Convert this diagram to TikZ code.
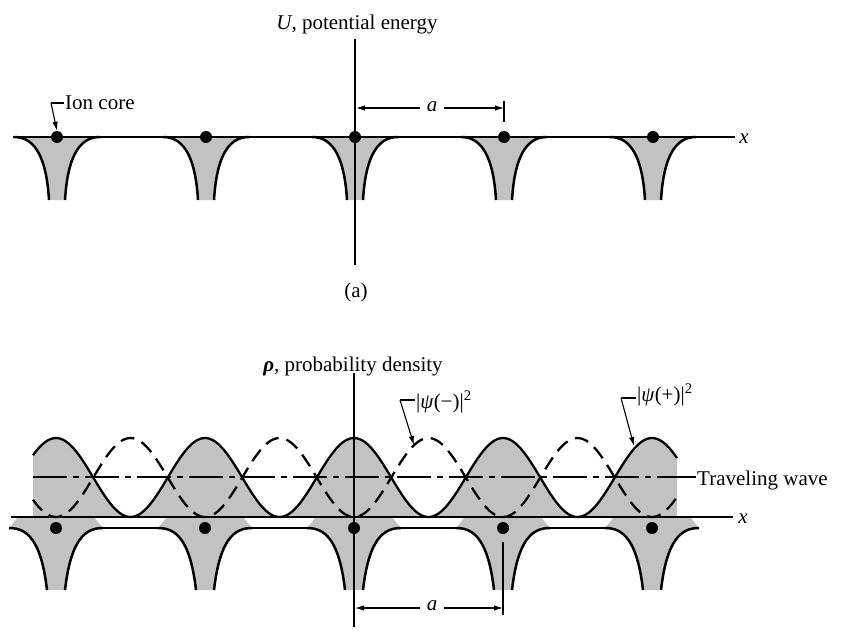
\documentclass[tikz,border=0pt]{standalone}
\usepackage{fontspec}
\setmainfont{Liberation Serif}
\usetikzlibrary{arrows.meta}
\begin{document}
\begin{tikzpicture}[x=1pt,y=-1pt,
  pot/.style={line width=2.5pt},
  axis/.style={line width=1.1pt},
  wave/.style={line width=2.3pt},
  dwave/.style={wave, dash pattern=on 14pt off 8pt},
  trav/.style={line width=1.1pt, dash pattern=on 34pt off 6pt on 6pt off 6pt},
  shade/.style={fill=black!24},
  ion/.style={circle, fill=black, inner sep=0pt, minimum size=12pt},
  lbl/.style={font=\fontsize{21}{24}\selectfont, inner sep=1pt},
  tip/.style={-{Latex[length=9pt,width=5.5pt]}, line width=1.1pt},
  plain/.style={line width=1.1pt},
]
\useasboundingbox (0,0) rectangle (842,634);

% ================= (a) potential energy =================
\foreach \c in {-2,...,2} {
  \fill[shade] ({355+149*\c-43},137) .. controls ({355+149*\c-26},137) and ({355+149*\c-11},150) .. ({355+149*\c-8},200)
     -- ({355+149*\c+8},200) .. controls ({355+149*\c+11},150) and ({355+149*\c+26},137) .. ({355+149*\c+43},137) -- cycle;
}
\draw[axis] (13,137) -- (735,137);
\foreach \c in {-2,...,2} {
  \draw[pot] ({355+149*\c-43},137) .. controls ({355+149*\c-26},137) and ({355+149*\c-11},150) .. ({355+149*\c-8},200);
  \draw[pot] ({355+149*\c+8},200) .. controls ({355+149*\c+11},150) and ({355+149*\c+26},137) .. ({355+149*\c+43},137);
}
\foreach \c in {-2,...,1} {
  \draw[pot] ({355+149*\c+43},137) -- ({355+149*\c+106},137);
}
\foreach \c/\n in {-2/1,-1/2,0/3,1/4,2/5} {
  \node[ion] (t\n) at ({355+149*\c},137) {};
}
\node[lbl] (xa) at (744,139) {\textit{x}};
\node[lbl] (Ulab) at (357,24) {\textit{U}, potential energy};
\coordinate (Utop) at (355,39);
\coordinate (Ubot) at (355,265);
\draw[axis] (Utop) -- (Ubot);
\node[lbl] (alab) at (356,292) {(a)};

% Ion core label
\node[lbl, anchor=west] (ion) at (64,103) {Ion core};
\coordinate (ionk) at (51,103);
\draw[plain] (ion.west) -- (ionk);
\draw[tip] (ionk) -- (t1.north);

% dimension a (top)
\node[lbl] (atop) at (432,107) {\textit{a}};
\coordinate (at1) at (356,108);
\coordinate (at2) at (504,108);
\coordinate (tk1) at (504,101);
\coordinate (tk2) at (504,122);
\draw[plain] (tk1) -- (tk2);
\draw[tip] (atop.west |- at1) ++(-6,0) -- (at1);
\draw[tip] (atop.east |- at2) ++(6,0) -- (at2);

% ================= (b) probability density =================
% gray fill under |psi(+)|^2
\fill[shade] (33,517) -- plot[domain=33:677, samples=220] (\x, {517-39.5*(1+cos(2.41611*(\x-354)))}) -- (677,517) -- cycle;
% wells
\foreach \c in {-2,...,2} {
  \fill[shade] ({354+149*\c-38},517) -- ({354+149*\c-47},528) .. controls ({354+149*\c-30},528) and ({354+149*\c-15},538) .. ({354+149*\c-9},590)
     -- ({354+149*\c+9},590) .. controls ({354+149*\c+15},538) and ({354+149*\c+30},528) .. ({354+149*\c+47},528) -- ({354+149*\c+38},517) -- cycle;
}
% traveling wave
\node[lbl, anchor=west] (tw) at (696,480) {Traveling wave};
\coordinate (tws) at (33,477);
\coordinate (twe) at (672,477);
\draw[trav] (tws) -- (twe);
\draw[plain] (twe) -- (tw.west |- twe);
% waves
\draw[wave] plot[domain=33:677, samples=220] (\x, {517-39.5*(1+cos(2.41611*(\x-354)))});
\draw[dwave] plot[domain=33:677, samples=220] (\x, {517-39.5*(1-cos(2.41611*(\x-354)))});
% axis
\draw[axis] (11,517) -- (733,517);
\node[lbl] (xb) at (743,519) {\textit{x}};
% potential
\foreach \c in {-2,...,2} {
  \draw[pot] ({354+149*\c-47},528) .. controls ({354+149*\c-30},528) and ({354+149*\c-15},538) .. ({354+149*\c-9},590);
  \draw[pot] ({354+149*\c+9},590) .. controls ({354+149*\c+15},538) and ({354+149*\c+30},528) .. ({354+149*\c+47},528);
}
\foreach \c in {-2,...,1} {
  \draw[pot] ({354+149*\c+47},528) -- ({354+149*\c+102},528);
}
\foreach \c/\n in {-2/1,-1/2,0/3,1/4,2/5} {
  \node[ion] (b\n) at ({354+149*\c},528) {};
}
\node[lbl] (rholab) at (353,366) {\textbf{\textit{ρ}}, probability density};
\coordinate (rtop) at (354,373);
\coordinate (rbot) at (354,627);
\draw[axis] (rtop) -- (rbot);

% psi labels
\node[lbl, anchor=west] (pm) at (415,402) {|\textit{ψ}(−)|\textsuperscript{2}};
\coordinate (pmk) at (400,400);
\coordinate (pmt) at (414,445);
\draw[plain] (pm.west |- pmk) -- (pmk);
\draw[tip] (pmk) -- (pmt);
\node[lbl, anchor=west] (pp) at (636,395) {|\textit{ψ}(+)|\textsuperscript{2}};
\coordinate (ppk) at (621,398);
\coordinate (ppt) at (634,446);
\draw[plain] (pp.west |- ppk) -- (ppk);
\draw[tip] (ppk) -- (ppt);

% dimension a (bottom)
\node[lbl] (abot) at (432,606) {\textit{a}};
\coordinate (ab1) at (355,608);
\coordinate (ab2) at (503,608);
\coordinate (bk1) at (503,542);
\coordinate (bk2) at (503,615);
\draw[plain] (bk1) -- (bk2);
\draw[tip] (abot.west |- ab1) ++(-6,0) -- (ab1);
\draw[tip] (abot.east |- ab2) ++(6,0) -- (ab2);
\end{tikzpicture}
\end{document}
